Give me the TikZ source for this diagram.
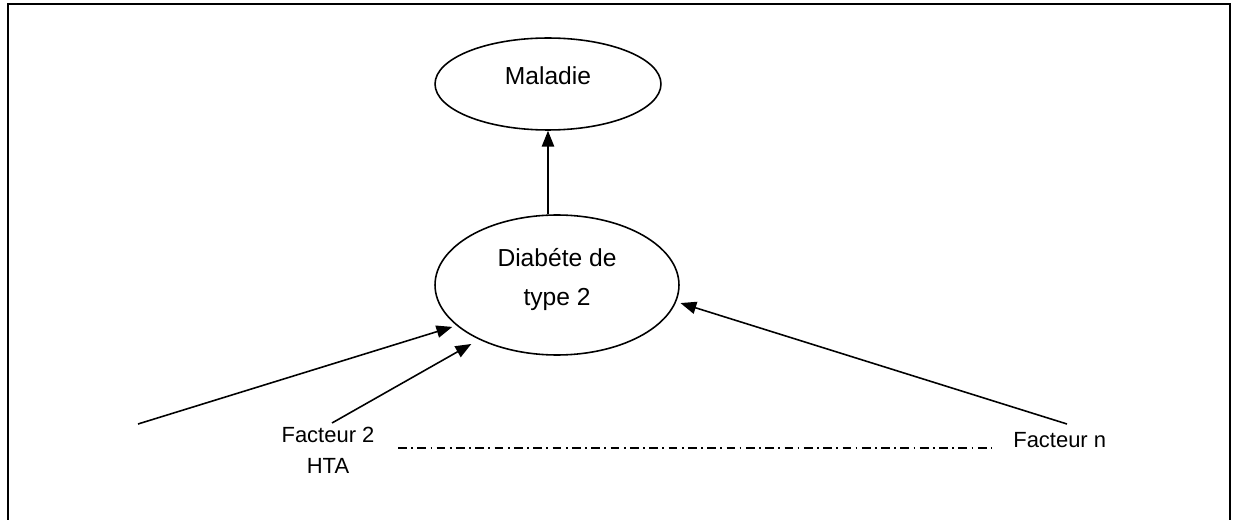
\documentclass[tikz,border=0pt]{standalone}
\usepackage{fontspec}
\setmainfont{Liberation Sans}
\usetikzlibrary{arrows.meta,shapes.geometric}
\begin{document}
\begin{tikzpicture}[x=0.02cm, y=-0.02cm,
    bulle/.style={draw, ellipse, line width=0.9pt, font=\fontsize{14}{22}\selectfont, align=center},
    facteur/.style={font=\fontsize{12.5}{17.6}\selectfont, align=center, inner sep=0pt},
    fleche/.style={-{Triangle[length=9pt,width=7pt]}, line width=0.9pt}]
    \useasboundingbox (0,0) rectangle (1238,520);
    \draw[line width=1.1pt] (8,520) -- (8,4) -- (1230,4) -- (1230,520);

    \node[bulle, minimum width=4.52cm, minimum height=1.84cm, text height=10pt, text depth=9pt] (mal) at (548,84) {Maladie};
    \node[bulle, minimum width=4.88cm, minimum height=2.8cm, text depth=9.5pt] (diab) at (557,285) {Diabéte de\\type 2};

    \node[facteur, anchor=base] (f2) at (328,473) {Facteur 2\\HTA};
    \node[facteur, anchor=base west] (fn) at (1013,447) {Facteur n};
    \coordinate (f1) at (138,424);
    \coordinate (d2) at (332,423);
    \coordinate (dn) at (1067,424);
    \coordinate (l1) at (398,448);
    \coordinate (l2) at (992,448);

    \draw[fleche] (diab.north -| mal.south) -- (mal.south);
    \draw[fleche, shorten >=2.5pt] (f1) -- (diab.202);
    \draw[fleche, shorten >=5pt] (d2) -- (diab.215);
    \draw[fleche, shorten >=2.5pt] (dn) -- (diab.352);
    \draw[dash pattern=on 5pt off 2.5pt on 1pt off 2.5pt, line width=0.6pt] (l1) -- (l2);
\end{tikzpicture}
\end{document}
